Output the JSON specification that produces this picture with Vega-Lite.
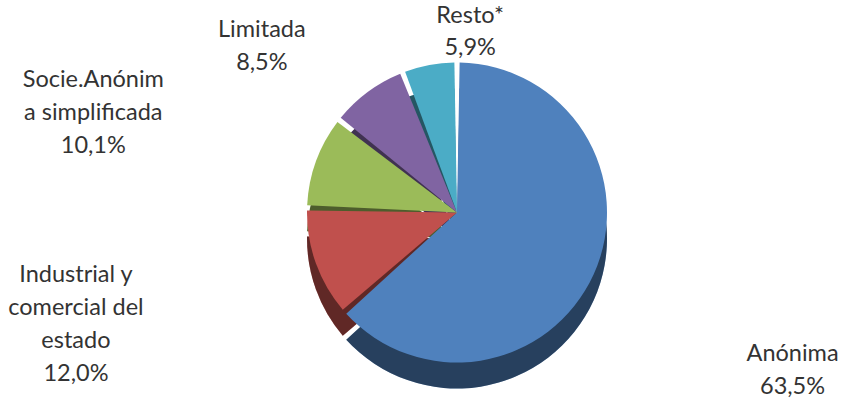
{
  "$schema": "https://vega.github.io/schema/vega-lite/v6.json",
  "width": 794,
  "height": 385,
  "autosize": {"type": "none"},
  "padding": {"left": 60, "right": 0, "top": 20, "bottom": 0},
  "background": "white",
  "config": {"view": {"stroke": null}},
  "data": {
    "values": [
      {"categoria": "Anónima", "etiqueta": "Anónima", "valor": 63.5},
      {"categoria": "Industrial y comercial del estado", "etiqueta": "Industrial y\ncomercial del\nestado", "valor": 12.0},
      {"categoria": "Socie.Anónima simplificada", "etiqueta": "Socie.Anónim\na simplificada", "valor": 10.1},
      {"categoria": "Limitada", "etiqueta": "Limitada", "valor": 8.5},
      {"categoria": "Resto*", "etiqueta": "Resto*", "valor": 5.9}
    ]
  },
  "transform": [
    {"calculate": "datum.etiqueta + '\\n' + replace(format(datum.valor, '.1f'), '.', ',') + '%'", "as": "texto"}
  ],
  "encoding": {
    "theta": {"field": "valor", "type": "quantitative", "stack": true},
    "order": {"field": "valor", "type": "quantitative", "sort": "descending"}
  },
  "layer": [
    {
      "mark": {"type": "arc", "outerRadius": 150, "padAngle": 0.035, "yOffset": 26},
      "encoding": {
        "color": {
          "field": "categoria", "type": "nominal", "legend": null,
          "scale": {
            "domain": ["Anónima", "Industrial y comercial del estado", "Socie.Anónima simplificada", "Limitada", "Resto*"],
            "range": ["#4F81BD", "#C0504D", "#9BBB59", "#8064A2", "#4BACC6"]
          }
        }
      }
    },
    {
      "mark": {"type": "arc", "outerRadius": 150, "padAngle": 0.035, "yOffset": 26, "color": "black", "opacity": 0.5},
      "encoding": {}
    },
    {
      "mark": {"type": "arc", "outerRadius": 150, "padAngle": 0.035},
      "encoding": {
        "color": {"field": "categoria", "type": "nominal", "legend": null}
      }
    },
    {
      "mark": {"type": "text", "radius": 200, "dx": 50, "font": "Lato", "fontSize": 23.5, "lineHeight": 32, "lineBreak": "\n", "color": "#333333", "align": "center", "baseline": "middle"},
      "encoding": {"text": {"condition": {"test": "datum.categoria === 'Resto*'", "field": "texto"}, "value": ""}}
    },
    {
      "mark": {"type": "text", "radius": 227, "dx": -60, "font": "Lato", "fontSize": 23.5, "lineHeight": 33, "lineBreak": "\n", "color": "#333333", "align": "center", "baseline": "middle"},
      "encoding": {"text": {"condition": {"test": "datum.categoria === 'Limitada'", "field": "texto"}, "value": ""}}
    },
    {
      "mark": {"type": "text", "radius": 387, "font": "Lato", "fontSize": 23.5, "lineHeight": 33, "lineBreak": "\n", "color": "#333333", "align": "center", "baseline": "middle"},
      "encoding": {"text": {"condition": {"test": "datum.categoria === 'Socie.Anónima simplificada'", "field": "texto"}, "value": ""}}
    },
    {
      "mark": {"type": "text", "radius": 405, "dy": -75, "font": "Lato", "fontSize": 23.5, "lineHeight": 33, "lineBreak": "\n", "color": "#333333", "align": "center", "baseline": "middle"},
      "encoding": {"text": {"condition": {"test": "datum.categoria === 'Industrial y comercial del estado'", "field": "texto"}, "value": ""}}
    },
    {
      "mark": {"type": "text", "radius": 355, "dx": 12, "dy": -5, "font": "Lato", "fontSize": 23.5, "lineHeight": 33, "lineBreak": "\n", "color": "#333333", "align": "center", "baseline": "middle"},
      "encoding": {"text": {"condition": {"test": "datum.categoria === 'Anónima'", "field": "texto"}, "value": ""}}
    }
  ]
}
